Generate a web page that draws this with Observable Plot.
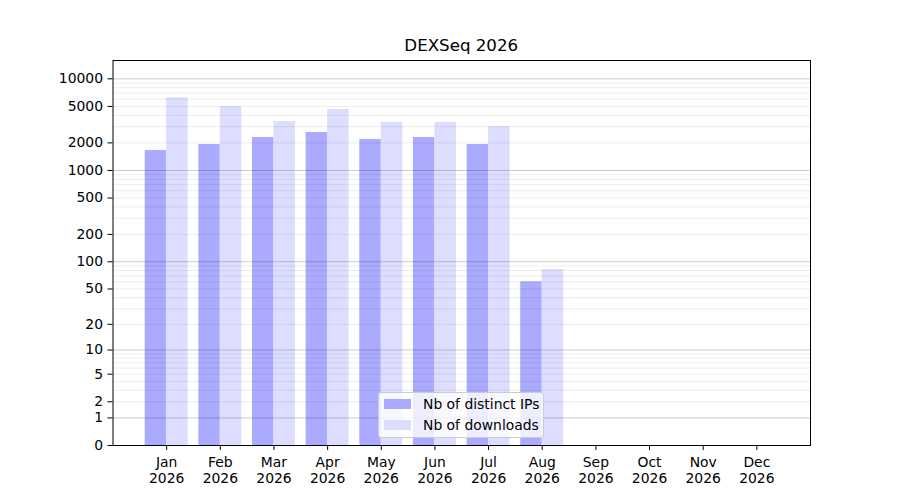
<!DOCTYPE html>
<html>
<head>
<meta charset="utf-8">
<script src="https://cdn.jsdelivr.net/npm/d3@7"></script>
<script src="https://cdn.jsdelivr.net/npm/@observablehq/plot@0.6"></script>
<style>
  html, body { margin: 0; padding: 0; background: #fff; }
  #wrap { position: relative; width: 900px; height: 500px; font-family: "DejaVu Sans", sans-serif; }
  #title { position: absolute; left: 112.5px; width: 697.5px; top: 36px; text-align: center; font-size: 16.67px; line-height: 20px; color: #000; }
  #legend { position: absolute; left: 378px; top: 392px; width: 164px; height: 44px; background: rgba(255,255,255,0.8); border: 1px solid #cccccc; border-radius: 3px; font-size: 13.9px; line-height: 16px; color: #000; }
  .sw { position: absolute; left: 5px; width: 27px; height: 10px; }
  .lt { position: absolute; left: 44px; white-space: nowrap; }
</style>
</head>
<body>
<div id="wrap">
  <div id="chart"></div>
  <div id="title"></div>
  <div id="legend"></div>
</div>
<script>
const title = "DEXSeq 2026";
const year = "2026";
const months = ["Jan","Feb","Mar","Apr","May","Jun","Jul","Aug","Sep","Oct","Nov","Dec"];
const ips = [1650, 1920, 2290, 2600, 2180, 2290, 1920, 60, 0, 0, 0, 0];
const downloads = [6210, 4990, 3420, 4630, 3340, 3340, 3020, 82, 0, 0, 0, 0];
const seriesNames = ["Nb of distinct IPs", "Nb of downloads"];
const seriesColors = ["#aaaaff", "#ddddff"];
const yTicks = [0, 1, 2, 5, 10, 20, 50, 100, 200, 500, 1000, 2000, 5000, 10000];
const majorGrid = [1, 10, 100, 1000, 10000];
const minorGrid = [2,3,4,5,6,7,8,9,20,30,40,50,60,70,80,90,200,300,400,500,600,700,800,900,2000,3000,4000,5000,6000,7000,8000,9000];
const yMax = 15849;
const barWidth = 0.4;

const data = months.map((m, i) => ({i, month: m, ips: ips[i], downloads: downloads[i]}));

const chart = Plot.plot({
  width: 900,
  height: 500,
  marginLeft: 112.5,
  marginRight: 90,
  marginTop: 60,
  marginBottom: 55,
  style: {fontFamily: "DejaVu Sans, sans-serif", fontSize: "13.9px", color: "#000", background: "#fff"},
  x: {type: "linear", domain: [-1, 12]},
  y: {type: "symlog", constant: 1, domain: [0, yMax]},
  marks: [
    Plot.rectY(data, {x1: d => d.i - barWidth, x2: d => d.i, y: "ips", fill: seriesColors[0]}),
    Plot.rectY(data, {x1: d => d.i, x2: d => d.i + barWidth, y: "downloads", fill: seriesColors[1]}),
    Plot.ruleY(minorGrid, {stroke: "#000", strokeOpacity: 0.075, strokeWidth: 1}),
    Plot.ruleY(majorGrid, {stroke: "#000", strokeOpacity: 0.2, strokeWidth: 1}),
    Plot.axisY({ticks: yTicks, tickFormat: d => `${d}`, tickSize: 5, tickPadding: 5, label: null, fontSize: 13.9}),
    Plot.axisX({ticks: d3.range(12), tickFormat: i => `${months[i]}\n${year}`, tickSize: 5, tickPadding: 5, label: null, fontSize: 13.9, lineHeight: 1.15}),
    Plot.frame({stroke: "#000", strokeWidth: 1})
  ]
});
document.getElementById("chart").appendChild(chart);
document.getElementById("title").textContent = title;

const legend = document.getElementById("legend");
seriesNames.forEach((name, k) => {
  const sw = document.createElement("div");
  sw.className = "sw";
  sw.style.top = (6 + 21 * k) + "px";
  sw.style.background = seriesColors[k];
  const t = document.createElement("div");
  t.className = "lt";
  t.style.top = (3 + 21 * k) + "px";
  t.textContent = name;
  legend.appendChild(sw);
  legend.appendChild(t);
});
</script>
</body>
</html>
